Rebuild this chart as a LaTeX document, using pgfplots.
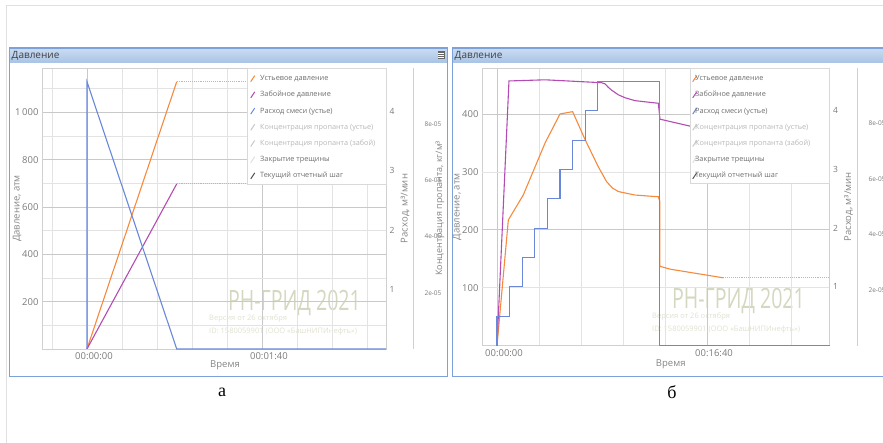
\documentclass[border=0pt]{standalone}
\usepackage{pgfplots}
\pgfplotsset{compat=1.18}
\usepackage{fontspec}
\setmainfont{Open Sans}
\newfontfamily\seriffont{Liberation Serif}
\newfontfamily\wmfont[FakeStretch=0.7]{Open Sans}
\definecolor{cOr}{HTML}{F68A3C}
\definecolor{cMg}{HTML}{B24CB2}
\definecolor{cBl}{HTML}{6A88DA}
\definecolor{cFrame}{HTML}{7DA1DA}
\definecolor{cTitleT}{HTML}{CADCF2}
\definecolor{cTitleB}{HTML}{A9C3E5}
\definecolor{cTick}{HTML}{7A7A7A}
\definecolor{cLab}{HTML}{858585}
\definecolor{cGridMaj}{HTML}{C9C9C9}
\definecolor{cGridMin}{HTML}{E3E3E3}
\definecolor{cAxis}{HTML}{D0D0D0}
\definecolor{cWm}{HTML}{D6D7C0}
\definecolor{cWmS}{HTML}{E0E0D0}
\definecolor{cLeg}{HTML}{6E6E6E}
\definecolor{cLegL}{HTML}{B8B8B8}
\definecolor{cIcoL}{HTML}{C8C8C8}
\definecolor{cIcoVL}{HTML}{E0E0E0}
\definecolor{cIcoD}{HTML}{555555}

\pgfplotsset{
  base/.style={
    scale only axis,
    anchor=south west,
    axis line style={draw=cAxis, line width=0.8pt},
    major tick length=0pt, minor tick length=0pt,
    ticklabel style={font=\fontsize{9.5}{11}\selectfont, text=cTick},
    /pgf/number format/assume math mode=true,
    scaled y ticks=false,
  },
  mainax/.style={base,
    grid=both,
    major grid style={draw=cGridMaj, line width=0.7pt},
    minor grid style={draw=cGridMin, line width=0.7pt},
    xticklabel style={xshift=7pt},
    every axis y label/.style={at={(axis description cs:0,0.5)}, xshift=-25pt, rotate=90, anchor=center,
      font=\fontsize{9.5}{11}\selectfont, text=cLab},
  },
  rateax/.style={base,
    axis y line*=right, hide x axis, clip=false,
    ymin=0, ymax=4.73, ytick={1,2,3,4},
    every axis y label/.style={at={(axis description cs:1,0.5)}, xshift=19pt, rotate=90, anchor=center,
      font=\fontsize{9.5}{11}\selectfont, text=cLab},
    yticklabel style={font=\fontsize{8.5}{10}\selectfont},
    legend cell align=left,
    legend image code/.code={\draw[##1, line width=1pt] (0pt,-3pt) -- (4pt,3pt);},
  },
  concax/.style={base, width=10pt,
    axis y line*=right, hide x axis,
    xmin=0, xmax=1,
    ymin=0, ymax=1e-4, ytick={2e-5,4e-5,6e-5,8e-5},
    yticklabels={2e-05,4e-05,6e-05,8e-05},
    yticklabel style={font=\fontsize{6.5}{8}\selectfont, xshift=8pt},
    every axis y label/.style={at={(axis description cs:1,0.5)}, xshift=#1, rotate=90, anchor=center,
      font=\fontsize{9}{10}\selectfont, text=cLab},
    ylabel={Концентрация пропанта, кг/м³},
  },
  legst/.style={legend style={at={(axis description cs:#1,1)}, anchor=north west, yshift=-7pt,
    draw=none, fill=none, font=\fontsize{7.3}{8}\selectfont, row sep=9.2pt, column sep=5pt,
    inner sep=0pt, nodes={inner sep=0pt, text height=5.5pt, text depth=1.5pt, anchor=west}}},
}

\begin{document}
\begin{tikzpicture}
\path[use as bounding box] (0pt,0pt) rectangle (883pt,443pt);
\clip (0pt,0pt) rectangle (883pt,443pt);

% outer page border
\draw[black!12, line width=0.8pt] (6pt,0pt) -- (6pt,438pt) -- (890pt,438pt);

% panel frames
\shade[top color=cTitleT, bottom color=cTitleB] (9.5pt,380pt) rectangle (447.5pt,395pt);
\shade[top color=cTitleT, bottom color=cTitleB] (452.5pt,380pt) rectangle (900pt,395pt);
\draw[cFrame, line width=1.6pt] (9.5pt,66.5pt) rectangle (447.5pt,395pt);
\draw[cFrame, line width=1.6pt] (452.5pt,66.5pt) rectangle (900pt,395pt);
\node[anchor=west, font=\fontsize{10}{12}\selectfont, text=black!75, inner sep=0pt] at (11.5pt,387.5pt) {Давление};
\node[anchor=west, font=\fontsize{10}{12}\selectfont, text=black!75, inner sep=0pt] at (454.5pt,387.5pt) {Давление};
\fill[black!60] (437.5pt,383.5pt) rectangle (444.5pt,391.5pt);
\draw[white, line width=0.6pt] (438pt,385.5pt) -- (444pt,385.5pt) (438pt,387.5pt) -- (444pt,387.5pt) (438pt,389.5pt) -- (444pt,389.5pt);

% watermarks
\node[font=\wmfont\fontsize{28}{30}\selectfont, text=cWm, inner sep=0pt] at (294.5pt,140pt) {РН-ГРИД 2021};
\node[anchor=west, font=\fontsize{7.5}{9}\selectfont, text=cWmS, inner sep=0pt] at (209pt,124.5pt) {Версия от 26 октября};
\node[anchor=west, font=\fontsize{7.5}{9}\selectfont, text=cWmS, inner sep=0pt] at (209pt,111pt) {ID: 1580059901 (ООО «БашНИПИнефть»)};
\node[font=\wmfont\fontsize{28}{30}\selectfont, text=cWm, inner sep=0pt] at (738.5pt,142pt) {РН-ГРИД 2021};
\node[anchor=west, font=\fontsize{7.5}{9}\selectfont, text=cWmS, inner sep=0pt] at (652pt,126.5pt) {Версия от 26 октября};
\node[anchor=west, font=\fontsize{7.5}{9}\selectfont, text=cWmS, inner sep=0pt] at (652pt,113pt) {ID: 1580059901 (ООО «БашНИПИнефть»)};

% ================= Panel a =================
\begin{axis}[mainax, at={(42pt,94pt)}, width=344pt, height=281pt,
  xmin=-25.7, xmax=170.9, ymin=0, ymax=1188,
  xtick={0,100}, xticklabels={00:00:00,00:01:40},
  minor xtick={-20,20,40,60,80,120,140,160},
  ytick={200,400,600,800,1000}, yticklabels={200,400,600,800,1\,000},
  minor ytick={100,300,500,700,900,1100},
  xlabel={Время}, ylabel={Давление, атм},
  every axis x label/.style={at={(axis description cs:0.5,0)}, anchor=center, xshift=11pt, yshift=-16pt,
    font=\fontsize{9.5}{11}\selectfont, text=cLab},
]
\addplot[gray!55, densely dotted, line width=0.9pt] coordinates {(51.3,1130) (170.9,1130)};
\addplot[gray!55, densely dotted, line width=0.9pt] coordinates {(51.3,698) (170.9,698)};
\addplot[cOr, line width=1.1pt] coordinates {(0,0) (51.3,1130)};
\addplot[cMg, line width=1.1pt] coordinates {(0,0) (51.3,698)};
\end{axis}

\begin{axis}[rateax, at={(42pt,94pt)}, width=344pt, height=281pt,
  xmin=-25.7, xmax=170.9, ylabel={Расход, м³/мин}, legst=0.6047]
\addplot[cBl, line width=1.1pt, forget plot] coordinates {(0,0) (0,4.5) (51.3,0) (170.9,0)};
\draw[draw=black!15, fill=white, line width=0.8pt] (rel axis cs:0.596,0.584) rectangle (rel axis cs:1,1);
\addlegendimage{cOr}\addlegendentry{\textcolor{cLeg}{Устьевое давление}}
\addlegendimage{cMg}\addlegendentry{\textcolor{cLeg}{Забойное давление}}
\addlegendimage{cBl}\addlegendentry{\textcolor{cLeg}{Расход смеси (устье)}}
\addlegendimage{cIcoL}\addlegendentry{\textcolor{cLegL}{Концентрация пропанта (устье)}}
\addlegendimage{cIcoL}\addlegendentry{\textcolor{cLegL}{Концентрация пропанта (забой)}}
\addlegendimage{cIcoVL}\addlegendentry{\textcolor{cLeg}{Закрытие трещины}}
\addlegendimage{cIcoD}\addlegendentry{\textcolor{cLeg}{Текущий отчетный шаг}}
\end{axis}

\begin{axis}[concax=27pt, at={(403pt,94pt)}, height=281pt]
\end{axis}

% ================= Panel b =================
\begin{axis}[mainax, at={(482pt,97.4pt)}, width=347.5pt, height=277.6pt,
  xmin=-71.4, xmax=1583, ymin=0, ymax=479.4,
  xtick={0,1000}, xticklabels={00:00:00,00:16:40},
  minor xtick={200,400,600,800,1200,1400},
  ytick={200,400}, extra y ticks={100,300},
  extra tick style={major grid style={draw=cGridMin, line width=0.7pt}},
  xlabel={Время}, ylabel={Давление, атм},
  every axis x label/.style={at={(axis description cs:0.5,0)}, anchor=center, xshift=15pt, yshift=-19pt,
    font=\fontsize{9.5}{11}\selectfont, text=cLab},
]
\addplot[gray!55, densely dotted, line width=0.9pt] coordinates {(1078,117) (1583,117)};
\addplot[gray!55, densely dotted, line width=0.9pt] coordinates {(1078,372) (1583,372)};
\addplot[cOr, line width=1.1pt] coordinates {
 (0,0) (54,217) (125,260) (229,350) (300,400) (360,404) (419,356) (482,309)
 (522,283) (550,272) (578,266) (657,260) (768,257) (775,249) (775,137)
 (824,132) (1078,117)};
\addplot[cMg, line width=1.1pt] coordinates {
 (0,0) (57,457) (229,459) (498,454) (514,452) (530,446) (546,441) (578,433)
 (610,428) (657,423) (705,421) (768,418.5) (776,391) (919,379) (1078,372)};
\end{axis}

\begin{axis}[rateax, at={(482pt,97.4pt)}, width=347.5pt, height=277.6pt,
  xmin=-71.4, xmax=1583, ylabel={Расход, м³/мин}, legst=0.6043,
  legend style={column sep=-2pt}]
\addplot[cBl, line width=1.1pt, forget plot] coordinates {
 (0,0) (0,0.5) (59,0.5) (59,1) (122,1) (122,1.5) (178,1.5) (178,2) (240,2)
 (240,2.5) (300,2.5) (300,3) (360,3) (360,3.5) (422,3.5) (422,4) (479,4)
 (479,4.5) (774,4.5) (774,0) (1583,0)};
\draw[draw=black!15, fill=white, line width=0.8pt] (rel axis cs:0.5986,0.5857) rectangle (rel axis cs:1,1);
\addlegendimage{cOr}\addlegendentry{\textcolor{cLeg}{Устьевое давление}}
\addlegendimage{cMg}\addlegendentry{\textcolor{cLeg}{Забойное давление}}
\addlegendimage{cBl}\addlegendentry{\textcolor{cLeg}{Расход смеси (устье)}}
\addlegendimage{cIcoL}\addlegendentry{\textcolor{cLegL}{Концентрация пропанта (устье)}}
\addlegendimage{cIcoL}\addlegendentry{\textcolor{cLegL}{Концентрация пропанта (забой)}}
\addlegendimage{cIcoVL}\addlegendentry{\textcolor{cLeg}{Закрытие трещины}}
\addlegendimage{cIcoD}\addlegendentry{\textcolor{cLeg}{Текущий отчетный шаг}}
\end{axis}

\begin{axis}[concax=31pt, at={(847pt,97.4pt)}, height=277.6pt]
\end{axis}

% sub-figure letters
\node[font=\seriffont\fontsize{18}{20}\selectfont] at (222pt,51pt) {а};
\node[font=\seriffont\fontsize{18}{20}\selectfont] at (672pt,51pt) {б};
\end{tikzpicture}
\end{document}
